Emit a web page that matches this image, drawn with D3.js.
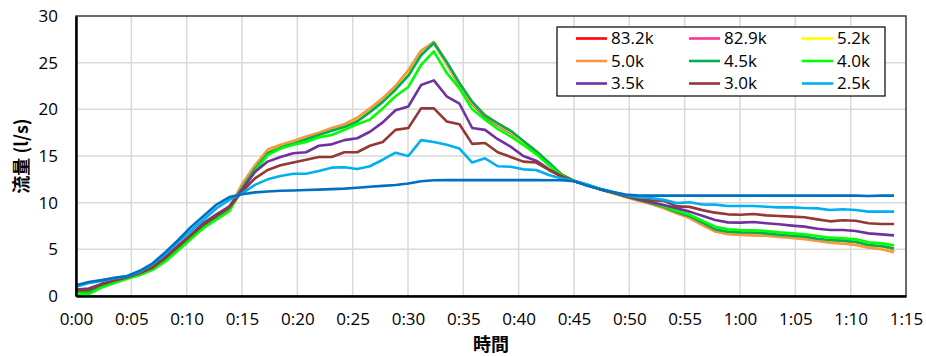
<!DOCTYPE html>
<html>
<head>
<meta charset="utf-8">
<script src="https://cdn.jsdelivr.net/npm/d3@7"></script>
<style>
    body { margin: 0; background: #ffffff; }
    #chart text { font-family: "Open Sans", "Liberation Sans", sans-serif; fill: #000; }
    #chart .cjk { font-family: "Noto Sans CJK JP", "Noto Sans CJK SC", sans-serif; }
</style>
</head>
<body>
<div id="chart"></div>
<script>
// time of each sample, minutes from start
const times = [
    0, 1.15, 2.31, 3.46, 4.62, 5.77, 6.93, 8.08, 9.24, 10.39,
    11.55, 12.7, 13.86, 15.01, 16.17, 17.32, 18.48, 19.63, 20.79, 21.94,
    23.1, 24.25, 25.41, 26.56, 27.72, 28.87, 30.03, 31.18, 32.34, 33.49,
    34.65, 35.8, 36.96, 38.11, 39.27, 40.42, 41.58, 42.73, 43.89, 45.04,
    46.2, 47.35, 48.51, 49.66, 50.82, 51.97, 53.13, 54.28, 55.44, 56.59,
    57.75, 58.9, 60.06, 61.21, 62.37, 63.52, 64.68, 65.83, 66.99, 68.14,
    69.3, 70.45, 71.61, 72.76, 73.92
];

// flow (l/s) per series
const flow832 = [
    0.4, 0.5, 1.15, 1.6, 2.0, 2.4, 3.0, 4.0, 5.2, 6.4,
    7.6, 8.5, 9.4, 11.8, 13.8, 15.5, 16.0, 16.4, 16.9, 17.35,
    17.8, 18.25, 18.9, 19.9, 21.0, 22.3, 23.9, 26.1, 27.2, 24.9,
    22.6, 20.6, 19.2, 18.3, 17.5, 16.5, 15.5, 14.2, 13.0, 12.3,
    11.9, 11.45, 11.05, 10.65, 10.25, 9.9, 9.45, 8.9, 8.45, 7.7,
    7.0, 6.71, 6.64, 6.6, 6.54, 6.43, 6.32, 6.18, 6.0, 5.82,
    5.71, 5.57, 5.29, 5.14, 4.8
];
const flow829 = [
    0.4, 0.5, 1.15, 1.6, 2.0, 2.4, 3.0, 4.0, 5.2, 6.4,
    7.6, 8.5, 9.4, 11.8, 13.8, 15.5, 16.0, 16.4, 16.9, 17.35,
    17.8, 18.25, 18.9, 19.9, 21.0, 22.3, 23.9, 26.1, 27.1, 24.9,
    22.6, 20.6, 19.2, 18.3, 17.5, 16.5, 15.5, 14.2, 13.0, 12.3,
    11.9, 11.45, 11.05, 10.65, 10.25, 9.9, 9.45, 8.9, 8.45, 7.7,
    7.0, 6.71, 6.64, 6.6, 6.54, 6.43, 6.32, 6.18, 6.0, 5.82,
    5.71, 5.57, 5.29, 5.14, 4.8
];
const flow52 = [
    0.35, 0.5, 1.15, 1.6, 2.0, 2.4, 3.0, 4.0, 5.2, 6.4,
    7.6, 8.5, 9.45, 11.9, 13.9, 15.6, 16.1, 16.5, 17.0, 17.4,
    17.9, 18.3, 19.0, 20.0, 21.1, 22.4, 24.0, 26.2, 27.2, 24.9,
    22.7, 20.7, 19.3, 18.4, 17.6, 16.5, 15.5, 14.2, 13.0, 12.3,
    11.9, 11.42, 11.02, 10.62, 10.22, 9.87, 9.42, 8.87, 8.4, 7.65,
    6.95, 6.66, 6.6, 6.55, 6.5, 6.38, 6.27, 6.13, 5.95, 5.77,
    5.66, 5.52, 5.24, 5.08, 4.75
];
const flow50 = [
    0.2, 0.45, 1.1, 1.55, 2.0, 2.4, 3.0, 4.0, 5.2, 6.4,
    7.6, 8.5, 9.5, 12.0, 14.0, 15.7, 16.2, 16.6, 17.1, 17.5,
    18.0, 18.4, 19.1, 20.1, 21.2, 22.5, 24.2, 26.3, 27.2, 25.0,
    22.8, 20.8, 19.4, 18.5, 17.7, 16.6, 15.5, 14.2, 13.0, 12.3,
    11.9, 11.4, 11.0, 10.6, 10.2, 9.85, 9.4, 8.85, 8.35, 7.6,
    6.9, 6.62, 6.55, 6.5, 6.45, 6.33, 6.22, 6.08, 5.9, 5.72,
    5.6, 5.46, 5.18, 5.02, 4.68
];
const flow45 = [
    0.45, 0.45, 1.1, 1.55, 1.95, 2.35, 2.95, 3.95, 5.1, 6.3,
    7.5, 8.4, 9.3, 11.6, 13.6, 15.3, 15.9, 16.3, 16.8, 17.25,
    17.7, 18.1, 18.7, 19.7, 20.8, 22.1, 23.6, 25.8, 27.1, 25.1,
    22.8, 20.8, 19.3, 18.5, 17.7, 16.6, 15.5, 14.3, 13.0, 12.3,
    11.9, 11.45, 11.08, 10.68, 10.3, 9.95, 9.55, 9.0, 8.55, 7.86,
    7.14, 6.89, 6.82, 6.8, 6.71, 6.57, 6.46, 6.36, 6.14, 6.0,
    5.93, 5.82, 5.46, 5.36, 5.11
];
const flow40 = [
    0.3, 0.2, 0.9, 1.4, 1.85, 2.25, 2.8, 3.7, 4.9, 6.1,
    7.3, 8.2, 9.1, 11.5, 13.4, 15.1, 15.8, 16.2, 16.5, 17.0,
    17.25, 17.8, 18.4, 18.9, 20.1, 21.4, 22.4, 24.75, 26.2, 23.9,
    22.25, 20.0, 18.9, 17.9, 17.1, 16.2, 15.2, 14.0, 12.9, 12.3,
    11.9, 11.45, 11.1, 10.7, 10.35, 10.05, 9.64, 9.14, 8.7, 8.07,
    7.43, 7.14, 7.07, 7.04, 6.96, 6.82, 6.71, 6.61, 6.43, 6.25,
    6.18, 6.07, 5.75, 5.64, 5.43
];
const flow35 = [
    0.7, 0.8, 1.3, 1.7, 2.05, 2.5, 3.1, 4.2, 5.4, 6.6,
    7.85, 8.75, 9.6, 11.4, 13.3, 14.4, 14.9, 15.3, 15.4, 16.1,
    16.25, 16.7, 16.9, 17.6, 18.6, 19.9, 20.3, 22.6, 23.1, 21.4,
    20.6, 18.0, 17.8, 16.8, 16.0, 15.0, 14.5, 13.6, 12.8, 12.3,
    11.9, 11.45, 11.1, 10.7, 10.35, 10.05, 9.75, 9.4, 9.04, 8.6,
    8.14, 7.89, 7.86, 7.93, 7.79, 7.68, 7.54, 7.43, 7.21, 7.07,
    7.07, 6.96, 6.71, 6.6, 6.5
];
const flow30 = [
    0.6, 0.7, 1.25, 1.65, 2.0, 2.45, 3.05, 4.1, 5.3, 6.5,
    7.7, 8.6, 9.5, 11.2, 12.6, 13.5, 14.0, 14.3, 14.6, 14.9,
    14.9, 15.4, 15.4, 16.1, 16.5, 17.8, 18.0, 20.1, 20.1, 18.7,
    18.4, 16.3, 16.4, 15.4, 14.9, 14.4, 14.3, 13.5, 12.8, 12.3,
    11.9, 11.45, 11.1, 10.75, 10.4, 10.25, 10.2, 9.6, 9.55, 9.2,
    8.93, 8.75, 8.71, 8.79, 8.64, 8.57, 8.5, 8.43, 8.21, 8.0,
    8.11, 8.07, 7.79, 7.71, 7.71
];
const flow25 = [
    1.0, 1.4, 1.6, 1.9, 2.1, 2.6, 3.4, 4.5, 5.8, 7.0,
    8.2, 9.4, 10.3, 11.0, 11.9, 12.5, 12.86, 13.1, 13.1, 13.4,
    13.75, 13.8, 13.6, 13.9, 14.6, 15.35, 15.0, 16.7, 16.5, 16.2,
    15.8, 14.3, 14.75, 13.9, 13.85, 13.57, 13.5, 12.96, 12.6, 12.35,
    11.95, 11.5, 11.15, 10.8, 10.55, 10.5, 10.3, 9.95, 10.05, 9.8,
    9.79, 9.64, 9.64, 9.64, 9.57, 9.5, 9.5, 9.43, 9.39, 9.21,
    9.29, 9.21, 9.04, 9.04, 9.04
];
// unlabelled inflow line (dark blue, not in legend)
const inflow = [
    1.15, 1.5, 1.7, 1.95, 2.15, 2.7, 3.5, 4.7, 6.0, 7.4,
    8.6, 9.8, 10.6, 10.9, 11.1, 11.2, 11.28, 11.3, 11.35, 11.4,
    11.45, 11.5, 11.6, 11.7, 11.8, 11.9, 12.05, 12.3, 12.4, 12.42,
    12.42, 12.42, 12.42, 12.42, 12.42, 12.42, 12.42, 12.4, 12.4, 12.3,
    11.8, 11.43, 11.14, 10.86, 10.76, 10.75, 10.75, 10.75, 10.75, 10.75,
    10.75, 10.75, 10.75, 10.75, 10.75, 10.75, 10.75, 10.75, 10.75, 10.75,
    10.75, 10.75, 10.72, 10.75, 10.75
];

const seriesNames = ["83.2k", "82.9k", "5.2k", "5.0k", "4.5k", "4.0k", "3.5k", "3.0k", "2.5k"];
const seriesColors = ["#ff0000", "#ff3399", "#ffff00", "#f79646", "#00b050", "#00ff00", "#7030a0", "#953735", "#00b0f0"];
const seriesValues = [flow832, flow829, flow52, flow50, flow45, flow40, flow35, flow30, flow25];

const xTicks = d3.range(0, 76, 5);   // minutes
const yTicks = [0, 5, 10, 15, 20, 25, 30];

const width = 926, height = 356;
const margin = { top: 16, right: 20, bottom: 60, left: 76 };
const plotW = width - margin.left - margin.right;   // 830
const plotH = height - margin.top - margin.bottom;  // 280

const svg = d3.select("#chart").append("svg")
    .attr("width", width)
    .attr("height", height);

const x = d3.scaleLinear().domain([0, 75]).range([margin.left, margin.left + plotW]);
const y = d3.scaleLinear().domain([0, 30]).range([margin.top + plotH, margin.top]);

const fmtTime = m => `${Math.floor(m / 60)}:${String(m % 60).padStart(2, "0")}`;

// GRIDLINES
svg.append("g")
    .selectAll("line.h")
    .data(yTicks.slice(1, -1))
    .join("line")
    .attr("x1", x(0)).attr("x2", x(75))
    .attr("y1", d => y(d)).attr("y2", d => y(d))
    .attr("stroke", "#d9d9d9").attr("stroke-width", 1.5);

svg.append("g")
    .selectAll("line.v")
    .data(xTicks.slice(1, -1))
    .join("line")
    .attr("y1", y(0)).attr("y2", y(30))
    .attr("x1", d => x(d)).attr("x2", d => x(d))
    .attr("stroke", "#d9d9d9").attr("stroke-width", 1.5);

// plot frame (top / right), axes drawn heavier below
svg.append("rect")
    .attr("x", x(0)).attr("y", y(30))
    .attr("width", x(75) - x(0)).attr("height", y(0) - y(30))
    .attr("fill", "none").attr("stroke", "#3a3a3a").attr("stroke-width", 1.5);

// LINES
const line = d3.line()
    .x((d, i) => x(times[i]))
    .y(d => y(d));

const plot = svg.append("g");

seriesValues.forEach((vals, i) => {
    plot.append("path")
        .datum(vals)
        .attr("fill", "none")
        .attr("stroke", seriesColors[i])
        .attr("stroke-width", 2.6)
        .attr("stroke-linejoin", "round")
        .attr("d", line);
});

plot.append("path")
    .datum(inflow)
    .attr("fill", "none")
    .attr("stroke", "#0070c0")
    .attr("stroke-width", 2.6)
    .attr("stroke-linejoin", "round")
    .attr("d", line);

// AXES
const xAxis = d3.axisBottom(x).tickValues(xTicks).tickFormat(fmtTime).tickSize(0).tickPadding(17);
const yAxis = d3.axisLeft(y).tickValues(yTicks).tickSize(0).tickPadding(18);

const gx = svg.append("g").attr("transform", `translate(0,${y(0)})`).call(xAxis);
const gy = svg.append("g").attr("transform", `translate(${x(0)},0)`).call(yAxis);

gx.select(".domain").attr("stroke", "#000").attr("stroke-width", 2.5);
gy.select(".domain").attr("stroke", "#000").attr("stroke-width", 2.5);
gx.selectAll("text").style("font-size", "17px");
gy.selectAll("text").style("font-size", "17px");

// axis titles
svg.append("text")
    .attr("class", "cjk")
    .attr("x", x(37.5)).attr("y", 351)
    .attr("text-anchor", "middle")
    .style("font-size", "18px")
    .style("font-weight", "bold")
    .text("時間");

svg.append("text")
    .attr("class", "cjk")
    .attr("transform", `translate(28,${y(15)}) rotate(-90)`)
    .attr("text-anchor", "middle")
    .style("font-size", "18px")
    .style("font-weight", "bold")
    .text("流量 (l/s)");

// LEGEND
const legend = svg.append("g");
legend.append("rect")
    .attr("x", 557).attr("y", 27)
    .attr("width", 328).attr("height", 69)
    .attr("fill", "#fff").attr("stroke", "#000").attr("stroke-width", 1.2);

const colX = [576, 689, 802];
const rowY = [38.5, 61, 83.5];

const items = legend.selectAll("g.item")
    .data(seriesNames)
    .join("g")
    .attr("transform", (d, i) => `translate(${colX[i % 3]},${rowY[Math.floor(i / 3)]})`);

items.append("line")
    .attr("x1", 0).attr("x2", 31)
    .attr("stroke", (d, i) => seriesColors[i])
    .attr("stroke-width", 2.6);

items.append("text")
    .attr("x", 35)
    .attr("dy", "0.35em")
    .style("font-size", "17px")
    .text(d => d);
</script>
</body>
</html>
